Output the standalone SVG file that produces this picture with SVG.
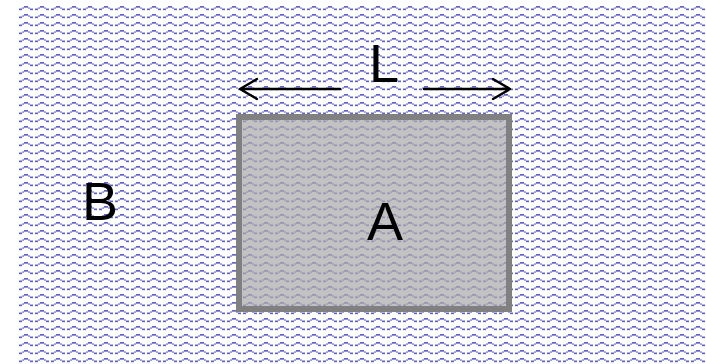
<svg xmlns="http://www.w3.org/2000/svg" width="706" height="364" viewBox="0 0 706 364">
  <style>
    .lbl { font-family: "Liberation Sans", Arial, sans-serif; font-size: 54px; fill: #000000; }
    .arr { stroke: #000000; stroke-width: 2.4; fill: none; stroke-linecap: round; stroke-linejoin: round; }
  </style>
  <defs>
    <pattern id="wave" x="19" y="5" width="16" height="8" patternUnits="userSpaceOnUse">
      <g fill="#6262cc">
        <rect x="0" y="3.5" width="3" height="1.7"/>
        <rect x="3.3" y="2.3" width="1.5" height="1.5"/>
        <rect x="5" y="1" width="4" height="1.7"/>
        <rect x="9.2" y="2.3" width="1.5" height="1.5"/>
        <rect x="11" y="3.5" width="3" height="1.7"/>
      </g>
    </pattern>
  </defs>
  <rect width="706" height="364" fill="#ffffff"/>
  <rect id="background" x="19" y="5" width="687" height="359" fill="url(#wave)"/>
  <g id="nodeA">
    <rect x="239" y="117" width="270" height="192" fill="#a8a8a8" fill-opacity="0.7" stroke="#808080" stroke-width="6"/>
    <text class="lbl" x="385" y="240" text-anchor="middle">A</text>
  </g>
  <g id="nodeB">
    <text class="lbl" x="82" y="220">B</text>
  </g>
  <g id="labelL">
    <text class="lbl" x="369" y="82">L</text>
  </g>
  <g id="connectors">
    <path class="arr" d="M340,89 L240,89 M257,79 L240,89 L257,99"/>
    <path class="arr" d="M424,89 L510,89 M493,79 L510,89 L493,99"/>
  </g>
</svg>
